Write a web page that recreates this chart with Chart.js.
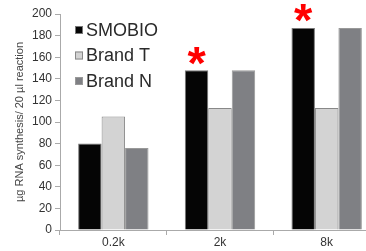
<!DOCTYPE html>
<html>
<head>
<meta charset="utf-8">
<script src="https://cdn.jsdelivr.net/npm/chart.js@4"></script>
<style>
  html, body { margin: 0; padding: 0; background: #fff; overflow: hidden; }
  #wrap { width: 380px; height: 251px; }
</style>
</head>
<body>
<div id="wrap"><canvas id="c"></canvas></div>
<script>
const categories = ['0.2k', '2k', '8k'];
const smobio = [80, 148, 187];
const brandT = [105, 113, 113];
const brandN = [76, 148, 187];
const starred = [false, true, true]; // red asterisk over SMOBIO bar
const yTicks = [0, 20, 40, 60, 80, 100, 120, 140, 160, 180, 200];

const legendInside = {
  id: 'legendInside',
  afterDraw(chart) {
    const ctx = chart.ctx;
    ctx.save();
    ctx.font = '18px Arial, "Liberation Sans", sans-serif';
    ctx.textBaseline = 'middle';
    chart.data.datasets.forEach((ds, i) => {
      const y = 30 + i * 25.5;
      ctx.fillStyle = ds.backgroundColor;
      ctx.fillRect(75, y - 4, 8, 8);
      ctx.strokeStyle = ds.borderColor;
      ctx.lineWidth = 1;
      ctx.strokeRect(75.5, y - 3.5, 7, 7);
      ctx.fillStyle = '#2a2a2a';
      ctx.fillText(ds.label, 86, y + 1);
    });
    ctx.restore();
  }
};

const stars = {
  id: 'stars',
  afterDatasetsDraw(chart) {
    const ctx = chart.ctx;
    const meta = chart.getDatasetMeta(0);
    ctx.save();
    ctx.fillStyle = '#ff0000';
    ctx.font = 'bold 47px Arial, "Liberation Sans", sans-serif';
    ctx.textAlign = 'center';
    ctx.textBaseline = 'top';
    meta.data.forEach((bar, i) => {
      if (starred[i]) ctx.fillText('*', bar.x, bar.y - 28);
    });
    ctx.restore();
  }
};

new Chart(document.getElementById('c'), {
  type: 'bar',
  data: {
    labels: categories,
    datasets: [
      { label: 'SMOBIO', data: smobio, backgroundColor: '#050505', borderColor: '#777', borderWidth: 1 },
      { label: 'Brand T', data: brandT, backgroundColor: '#d3d3d3', borderColor: '#888', borderWidth: 1 },
      { label: 'Brand N', data: brandN, backgroundColor: '#7f8084', borderColor: '#999', borderWidth: 1 }
    ]
  },
  options: {
    responsive: true,
    maintainAspectRatio: false,
    animation: false,
    devicePixelRatio: 1,
    layout: { padding: { top: 14, right: 0, left: 0, bottom: 0 } },
    plugins: { legend: { display: false }, tooltip: { enabled: false } },
    datasets: { bar: { barPercentage: 1, categoryPercentage: 0.66 } },
    scales: {
      x: {
        grid: { drawOnChartArea: false, tickLength: 5, color: '#aaa' },
        border: { color: '#aaa' },
        ticks: { color: '#333', font: { size: 12, family: 'Arial, "Liberation Sans", sans-serif' }, padding: 0 },
        afterFit(s) { s.height = 21; }
      },
      y: {
        min: 0, max: 200,
        afterBuildTicks(s) { s.ticks = yTicks.map(v => ({ value: v })); },
        grid: { drawOnChartArea: false, tickLength: 5, color: '#aaa' },
        border: { color: '#aaa' },
        ticks: { color: '#333', font: { size: 12, family: 'Arial, "Liberation Sans", sans-serif' }, padding: 3 },
        title: {
          display: true,
          text: 'µg RNA synthesis/ 20 µl reaction',
          color: '#444',
          font: { size: 11, family: 'Arial, "Liberation Sans", sans-serif' },
          padding: { top: 13, bottom: 0 }
        },
        afterFit(s) { s.width = 60; }
      }
    }
  },
  plugins: [legendInside, stars]
});
</script>
</body>
</html>
